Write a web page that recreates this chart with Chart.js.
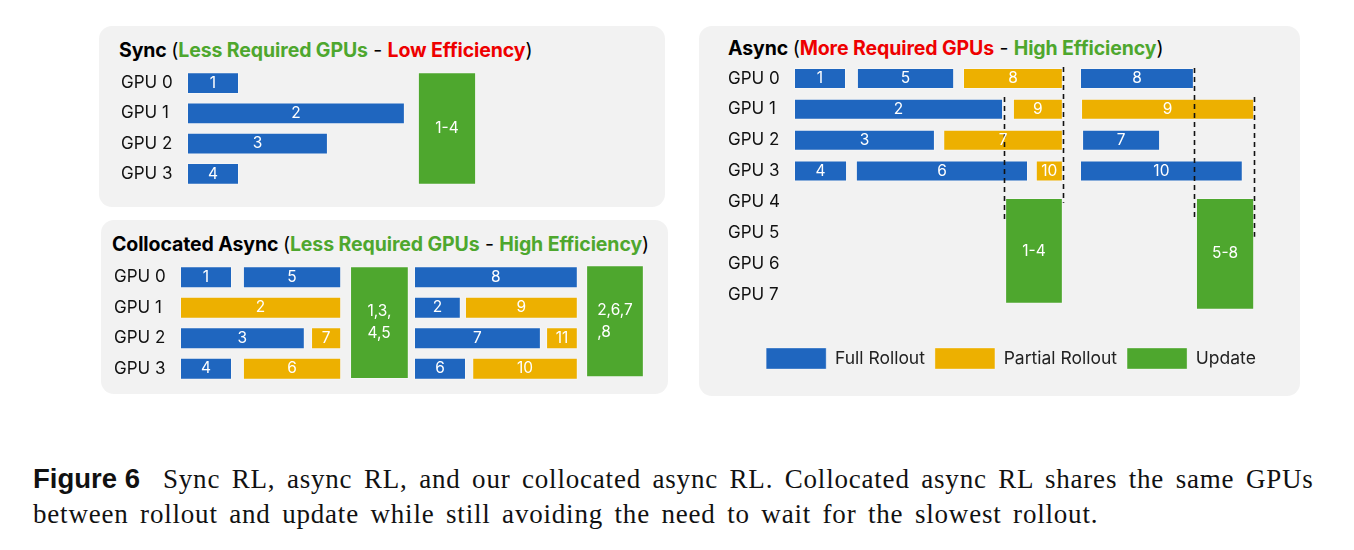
<!DOCTYPE html>
<html>
<head>
<meta charset="utf-8">
<script src="https://cdn.jsdelivr.net/npm/chart.js@4.4.1/dist/chart.umd.min.js"></script>
<style>
  body { margin: 0; width: 1354px; height: 550px; background: #fff; position: relative; overflow: hidden; font-family: Inter, sans-serif; }
  .panel { position: absolute; background: #f2f2f2; border-radius: 13px; }
  .title { position: absolute; font-size: 19.5px; line-height: 22px; font-weight: 700; color: #000; white-space: nowrap; letter-spacing: -0.1px; }
  .title .p { font-weight: 400; }
  .g { color: #4ea72e; }
  .r { color: #ee0000; }
  .box { position: absolute; }
  .cap { position: absolute; line-height: 32px; color: #111; white-space: nowrap; }
  .cap b { font-family: "Liberation Sans", Arial, sans-serif; font-size: 27.5px; }
  .cap .s { font-family: "Liberation Serif", serif; font-size: 27px; letter-spacing: 0.8px; word-spacing: 4px; }
</style>
</head>
<body>
<div class="panel" style="left:99px;top:26px;width:566px;height:181px"></div>
<div class="panel" style="left:101px;top:220px;width:567px;height:174px"></div>
<div class="panel" style="left:699px;top:26px;width:601px;height:370px"></div>

<div class="title" style="left:119px;top:39px">Sync <span class="p">(</span><span class="g">Less Required GPUs</span><span class="p"> - </span><span class="r">Low Efficiency</span><span class="p">)</span></div>
<div class="title" style="left:112px;top:233px">Collocated Async <span class="p">(</span><span class="g">Less Required GPUs</span><span class="p"> - </span><span class="g">High Efficiency</span><span class="p">)</span></div>
<div class="title" style="left:728px;top:37px">Async <span class="p">(</span><span class="r">More Required GPUs</span><span class="p"> - </span><span class="g">High Efficiency</span><span class="p">)</span></div>

<div class="box" style="left:121px;top:68px;width:544px;height:121px"><canvas id="sync"></canvas></div>
<div class="box" style="left:114px;top:262px;width:554px;height:122px"><canvas id="colloc"></canvas></div>
<div class="box" style="left:728px;top:63px;width:566px;height:316px"><canvas id="async"></canvas></div>

<div class="cap" style="left:33px;top:463px"><b>Figure 6</b><span class="s" style="margin-left:23px">Sync RL, async RL, and our collocated async RL. Collocated async RL shares the same GPUs</span><br><span class="s">between rollout and update while still avoiding the need to wait for the slowest rollout.</span></div>

<script>
// time is measured in "short rollouts" (rollout 1 = one unit)
// rollout bars: [gpu row, start, end, label]
// update blocks: [start, end, top row, bottom row, label]
// dashed sync lines: [time, top row, bottom row]

const syncGpus = ['GPU 0', 'GPU 1', 'GPU 2', 'GPU 3'];
const syncFull = [[0, 0, 1.00, '1'], [1, 0, 4.19, '2'], [2, 0, 2.71, '3'], [3, 0, 1.00, '4']];
const syncPartial = [];
const syncUpdate = [[4.44, 5.56, -0.36, 3.36, '1-4']];

const collocGpus = ['GPU 0', 'GPU 1', 'GPU 2', 'GPU 3'];
const collocFull = [
  [0, 0, 1.00, '1'], [0, 1.21, 3.10, '5'], [2, 0, 2.40, '3'], [3, 0, 1.00, '4'],
  [0, 4.50, 7.65, '8'], [1, 4.50, 5.40, '2'], [2, 4.50, 6.94, '7'], [3, 4.50, 5.50, '6']
];
const collocPartial = [
  [1, 0, 3.10, '2'], [2, 2.52, 3.10, '7'], [3, 1.21, 3.10, '6'],
  [1, 5.48, 7.65, '9'], [2, 7.04, 7.65, '11'], [3, 5.62, 7.65, '10']
];
const collocUpdate = [[3.27, 4.40, -0.36, 3.34, '1,3,\n4,5'], [7.81, 8.92, -0.39, 3.28, '2,6,7\n,8']];

const asyncGpus = ['GPU 0', 'GPU 1', 'GPU 2', 'GPU 3', 'GPU 4', 'GPU 5', 'GPU 6', 'GPU 7'];
const asyncFull = [
  [0, 0, 1.00, '1'], [0, 1.21, 3.08, '5'], [1, 0, 4.02, '2'], [2, 0, 2.71, '3'],
  [3, 0, 1.02, '4'], [3, 1.19, 4.50, '6'],
  [0, 5.50, 7.69, '8'], [2, 5.54, 7.04, '7'], [3, 5.50, 8.63, '10']
];
const asyncPartial = [
  [0, 3.25, 5.17, '8'], [1, 4.21, 5.17, '9'], [2, 2.87, 5.17, '7'], [3, 4.65, 5.17, '10'],
  [1, 5.52, 8.85, '9']
];
const asyncUpdate = [[4.06, 5.17, 3.87, 7.30, '1-4'], [7.73, 8.85, 3.87, 7.49, '5-8']];
const asyncDash = [[4.04, 0.60, 4.64], [5.17, -0.37, 4.03], [7.69, -0.34, 4.58], [8.85, 0.60, 5.13]];

const BLUE = '#1f66bf', YELLOW = '#edb000', GREEN = '#4ea72e';
const UNIT = 52, AXIS_W = 66, LEGEND_GAP = 28;
const FONT = 'Inter';

Chart.defaults.font.family = FONT;
Chart.defaults.animation = false;

// white numbers in the middle of every bar
const barText = {
  id: 'barText',
  afterDatasetsDraw(chart) {
    const ctx = chart.ctx;
    ctx.save();
    ctx.fillStyle = '#fff';
    ctx.font = '15.5px ' + FONT;
    ctx.textBaseline = 'middle';
    ctx.textAlign = 'left';
    chart.data.datasets.forEach((ds, di) => {
      chart.getDatasetMeta(di).data.forEach((bar, i) => {
        const p = bar.getProps(['x', 'y', 'base'], true);
        const lines = ds.texts[i].split('\n');
        const w = Math.max(...lines.map(l => ctx.measureText(l).width));
        const left = (p.x + p.base) / 2 - w / 2;
        lines.forEach((l, k) => ctx.fillText(l, left, p.y + (k - (lines.length - 1) / 2) * 22));
      });
    });
    ctx.restore();
  }
};

function dashPlugin(lines) {
  return {
    id: 'syncDash',
    afterDatasetsDraw(chart) {
      const ctx = chart.ctx, xs = chart.scales.x, ys = chart.scales.y;
      ctx.save();
      ctx.strokeStyle = '#111';
      ctx.lineWidth = 1.6;
      ctx.setLineDash([5, 4]);
      lines.forEach(([t, r0, r1]) => {
        const x = Math.round(xs.getPixelForValue(t)) + 0.5;
        ctx.beginPath();
        ctx.moveTo(x, ys.getPixelForValue(r0));
        ctx.lineTo(x, ys.getPixelForValue(r1));
        ctx.stroke();
      });
      ctx.restore();
    }
  };
}

function timeline(id, gpus, full, partial, updates, dashes, thick, legend) {
  const canvas = document.getElementById(id);
  const n = gpus.length;
  const xMax = (canvas.parentNode.clientWidth - AXIS_W) / UNIT;
  const toBar = b => ({ y: b[0], x: [b[1], b[2]] });
  const rowAxis = { type: 'linear', min: -0.5, max: n - 0.5, reverse: true, offset: false };

  const scales = {
    x: {
      type: 'linear', min: 0, max: xMax, display: legend, offset: false,
      ticks: { display: false }, grid: { display: false }, border: { display: false },
      afterFit: s => { s.height = legend ? LEGEND_GAP : 0; s.paddingLeft = 0; s.paddingRight = 0; }
    },
    y: Object.assign({}, rowAxis, {
      afterBuildTicks: s => { s.ticks = gpus.map((g, i) => ({ value: i })); },
      afterFit: s => { s.width = AXIS_W; s.paddingTop = 0; s.paddingBottom = 0; },
      grid: { display: false, offset: false }, border: { display: false },
      ticks: { crossAlign: 'far', padding: 0, autoSkip: false, color: '#111', font: { size: 17 }, callback: v => gpus[v] }
    })
  };

  const datasets = [
    { label: 'Full Rollout', data: full.map(toBar), texts: full.map(b => b[3]), backgroundColor: BLUE, barPercentage: thick },
    { label: 'Partial Rollout', data: partial.map(toBar), texts: partial.map(b => b[3]), backgroundColor: YELLOW, barPercentage: thick }
  ];
  updates.forEach(([s, e, top, bot, t], i) => {
    const axis = 'u' + i;
    scales[axis] = Object.assign({}, rowAxis, {
      display: false, grid: { offset: false },
      afterBuildTicks: sc => { sc.ticks = []; }
    });
    datasets.push({
      label: 'Update', yAxisID: axis, data: [{ y: (top + bot) / 2, x: [s, e] }], texts: [t],
      backgroundColor: GREEN, barPercentage: (bot - top) / n
    });
  });
  datasets.forEach(d => Object.assign(d, {
    categoryPercentage: 1, grouped: false, borderWidth: 1,
    borderColor: 'rgba(255,255,255,0.35)', borderSkipped: false
  }));

  return new Chart(canvas, {
    type: 'bar',
    data: { datasets },
    options: {
      indexAxis: 'y',
      responsive: true,
      maintainAspectRatio: false,
      layout: { padding: 0 },
      scales,
      plugins: {
        tooltip: { enabled: false },
        legend: {
          display: legend,
          position: 'bottom',
          labels: {
            boxWidth: 60, boxHeight: 21, padding: 10, color: '#222',
            font: { size: 17.5 },
            filter: item => item.datasetIndex < 3
          }
        }
      }
    },
    // dashes first so the numbers stay readable on top of them
    plugins: [dashPlugin(dashes), barText]
  });
}

timeline('sync', syncGpus, syncFull, syncPartial, syncUpdate, [], 0.725, false);
timeline('colloc', collocGpus, collocFull, collocPartial, collocUpdate, [], 0.72, false);
timeline('async', asyncGpus, asyncFull, asyncPartial, asyncUpdate, asyncDash, 0.68, true);
</script>
</body>
</html>
